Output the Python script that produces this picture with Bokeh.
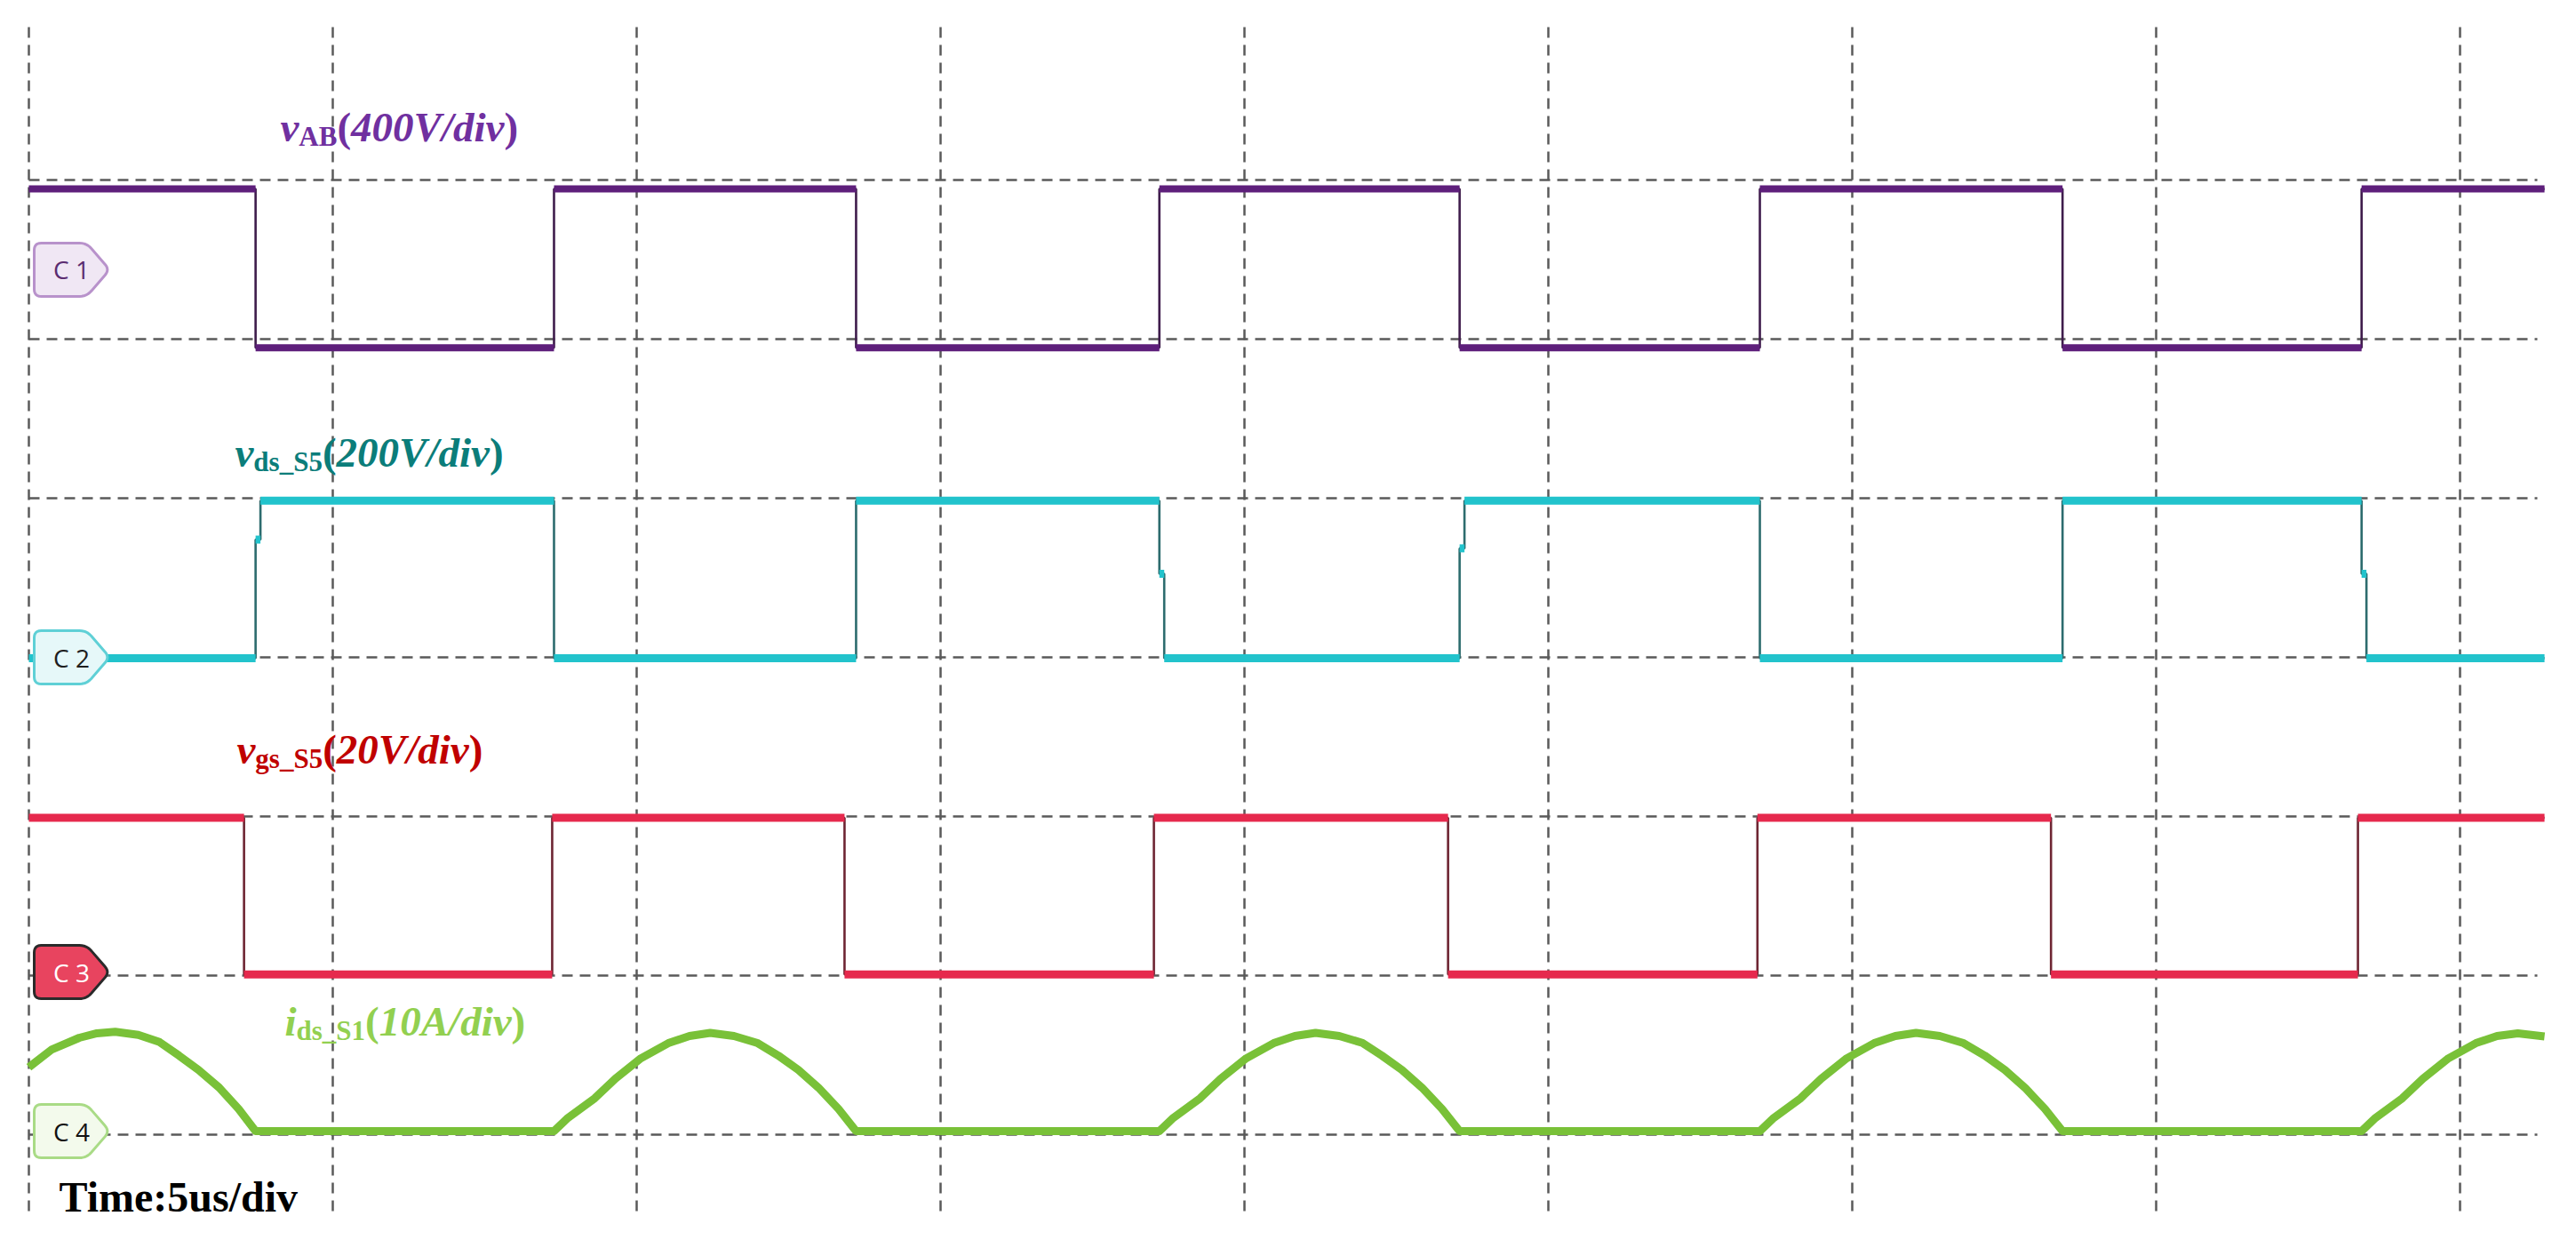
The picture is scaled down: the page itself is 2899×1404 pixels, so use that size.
import math
from bokeh.plotting import figure
from bokeh.models import Range1d, Label
from bokeh.embed import file_html
from bokeh.resources import INLINE
from bokeh.core.properties import value

# ---------------- data read from the oscilloscope capture ----------------
# time in microseconds (5 us/div), amplitudes in physical units
time_grid_us = [0, 5, 10, 15, 20, 25, 30, 35, 40]
div_grid = [-3, -2, -1, 0, 1, 2, 3]
trace_start_us = 0.0
trace_end_us = 41.39

# C1 : v_AB (400 V/div) - starts high
vab_edges_us = [3.73, 8.64, 13.61, 18.60, 23.54, 28.48, 33.46, 38.38]
vab_high_v = 203
vab_low_v = -196

# C2 : v_ds_S5 (200 V/div) - starts low
vds_edges_us = [3.73, 8.64, 13.61, 18.60, 23.54, 28.48, 33.46, 38.38]
vds_low_v = -1
vds_high_v = 197
vds_shoulder_v = [148, None, None, 105, 137, None, None, 105]

# C3 : v_gs_S5 (20 V/div) - starts high
vgs_edges_us = [3.54, 8.61, 13.42, 18.51, 23.35, 28.44, 33.27, 38.32]
vgs_high_v = 19.4
vgs_low_v = -0.3

# C4 : i_ds_S1 (10 A/div)
ids_t_us = [0.00, 0.38, 0.83, 1.12, 1.42, 1.80, 2.15, 2.47, 2.79, 3.13, 3.45, 3.73,
            8.64, 8.87, 9.31, 9.65, 10.07, 10.52, 10.87, 11.21, 11.60, 11.98, 12.33, 12.66, 12.99, 13.32, 13.61,
            18.60, 18.83, 19.27, 19.61, 20.03, 20.48, 20.83, 21.17, 21.56, 21.94, 22.26, 22.59, 22.92, 23.25, 23.54,
            28.48, 28.71, 29.15, 29.49, 29.91, 30.36, 30.71, 31.05, 31.44, 31.82, 32.18, 32.51, 32.84, 33.17, 33.46,
            38.38, 38.61, 39.05, 39.39, 39.81, 40.26, 40.61, 40.95, 41.39]
ids_a = [4.02, 5.14, 5.87, 6.15, 6.25, 6.05, 5.60, 4.75, 3.85, 2.74, 1.40, 0.0,
         0.0, 0.84, 2.07, 3.30, 4.58, 5.53, 5.98, 6.18, 5.98, 5.55, 4.75, 3.85, 2.74, 1.40, 0.0,
         0.0, 0.84, 2.07, 3.30, 4.58, 5.53, 5.98, 6.18, 5.98, 5.55, 4.75, 3.85, 2.74, 1.40, 0.0,
         0.0, 0.84, 2.07, 3.30, 4.58, 5.53, 5.98, 6.18, 5.98, 5.55, 4.75, 3.85, 2.74, 1.40, 0.0,
         0.0, 0.84, 2.07, 3.30, 4.58, 5.53, 5.98, 6.15, 5.95]

# channel settings: scale (units/div) and ground marker position (div)
ch_names = ["C 1", "C 2", "C 3", "C 4"]
ch_scale = [400, 200, 20, 10]
ch_ground_div = [2.436, 0.0, -1.978, -2.978]

# ---------------- layout / style ----------------
W, H = 2899, 1404
PX_US = 68.4          # pixels per microsecond
PX_DIV = 179.0        # pixels per vertical division
X0, Y0 = 32, 739      # canvas position of t=0 and div=0
x_start = -X0 / PX_US
x_end = x_start + W / PX_US
y_end = Y0 / PX_DIV
y_start = y_end - H / PX_DIV


def tx(px):
    return (px - X0) / PX_US


def dy(py):
    return (Y0 - py) / PX_DIV


p = figure(width=W, height=H, output_backend="svg", toolbar_location=None,
           x_range=Range1d(x_start, x_end), y_range=Range1d(y_start, y_end),
           min_border=0, min_border_left=0, min_border_right=0,
           min_border_top=0, min_border_bottom=0)
p.axis.visible = False
p.xgrid.visible = False
p.ygrid.visible = False
p.outline_line_color = None
p.background_fill_color = "white"
p.border_fill_color = "white"

# per-channel y ranges in physical units
for i, nm in enumerate(["c1", "c2", "c3", "c4"]):
    g, s = ch_ground_div[i], ch_scale[i]
    p.extra_y_ranges[nm] = Range1d((y_start - g) * s, (y_end - g) * s)

# ---------------- graticule ----------------
grid_col = "#5a5a5a"
vg_top, vg_bot = dy(30), dy(1368)
p.segment(x0=time_grid_us, x1=time_grid_us,
          y0=[vg_top] * len(time_grid_us), y1=[vg_bot] * len(time_grid_us),
          line_color=grid_col, line_width=2.5, line_dash="12 8")
hg_left, hg_right = tx(32), tx(2855)
p.segment(x0=[hg_left] * len(div_grid), x1=[hg_right] * len(div_grid),
          y0=div_grid, y1=div_grid,
          line_color=grid_col, line_width=2.5, line_dash="12 8")


# ---------------- traces ----------------
def step_path(edges, first, second, t0, t1, shoulders=None, sw=0.08):
    xs, ys = [t0], [first]
    flats = []
    level, other = first, second
    seg_start = t0
    for i, te in enumerate(edges):
        sh = shoulders[i] if shoulders else None
        xs.append(te); ys.append(level)
        flats.append(([seg_start, te], [level, level]))
        if sh is not None:
            xs += [te, te + sw, te + sw]; ys += [sh, sh, other]
            flats.append(([te, te + sw], [sh, sh]))
            seg_start = te + sw
        else:
            xs.append(te); ys.append(other)
            seg_start = te
        level, other = other, level
    xs.append(t1); ys.append(level)
    flats.append(([seg_start, t1], [level, level]))
    return xs, ys, flats


def draw_square(edges, first, second, rng, edge_col, flat_col, width, shoulders=None):
    xs, ys, flats = step_path(edges, first, second, trace_start_us, trace_end_us, shoulders)
    p.line(xs, ys, y_range_name=rng, line_color=edge_col, line_width=2.6)
    p.multi_line([f[0] for f in flats], [f[1] for f in flats], y_range_name=rng,
                 line_color=flat_col, line_width=width, line_cap="butt")


draw_square(vab_edges_us, vab_high_v, vab_low_v, "c1", "#3f1d4c", "#5e1f7b", 8)
draw_square(vds_edges_us, vds_low_v, vds_high_v, "c2", "#2d6c6e", "#22c3cc", 9, vds_shoulder_v)
draw_square(vgs_edges_us, vgs_high_v, vgs_low_v, "c3", "#6e2633", "#e6294d", 9)
p.line(ids_t_us, ids_a, y_range_name="c4", line_color="#79c138", line_width=9,
       line_join="round")


# ---------------- channel markers ----------------
def rounded_pentagon(cy_px, r=8, n=6):
    verts = [(38, cy_px - 30), (97, cy_px - 30), (123, cy_px),
             (97, cy_px + 30), (38, cy_px + 30)]
    pts = []
    m = len(verts)
    for k in range(m):
        P, V, N = verts[k - 1], verts[k], verts[(k + 1) % m]
        dp = math.hypot(P[0] - V[0], P[1] - V[1])
        dn = math.hypot(N[0] - V[0], N[1] - V[1])
        A = (V[0] + r * (P[0] - V[0]) / dp, V[1] + r * (P[1] - V[1]) / dp)
        B = (V[0] + r * (N[0] - V[0]) / dn, V[1] + r * (N[1] - V[1]) / dn)
        for j in range(n + 1):
            u = j / n
            x = (1 - u) ** 2 * A[0] + 2 * (1 - u) * u * V[0] + u ** 2 * B[0]
            y = (1 - u) ** 2 * A[1] + 2 * (1 - u) * u * V[1] + u ** 2 * B[1]
            pts.append((x, y))
    return [tx(q[0]) for q in pts], [dy(q[1]) for q in pts]


mk_fill = ["#f0e7f4", "#e6f8f9", "#e8445f", "#f3faec"]
mk_line = ["#b892cb", "#5fd0d6", "#2a2a2a", "#a9db86"]
mk_text = ["#5b2c70", "#1e1e1e", "#ffffff", "#111111"]
for i in range(4):
    cy = Y0 - ch_ground_div[i] * PX_DIV
    xs, ys = rounded_pentagon(cy)
    p.patch(xs, ys, fill_color=mk_fill[i], line_color=mk_line[i], line_width=3)
    p.text(x=[tx(80)], y=[ch_ground_div[i]], text=[ch_names[i]],
           text_font=value("Open Sans"), text_font_size="28px",
           text_color=mk_text[i], text_align="center", text_baseline="middle")


# ---------------- channel labels ----------------
SERIF = "Liberation Serif"
F_MAIN, F_SUB = 47, 31


def rich_label(start_px, mid_px, parts, color):
    # parts: (text, style, is_sub, width_em); mid_px = visual centre of main text
    off = 0.0
    for txt, style, sub, wem in parts:
        size = F_SUB if sub else F_MAIN
        ym = mid_px + (11 if sub else 0)
        p.add_layout(Label(x=tx(start_px), y=dy(ym), x_offset=off, text=txt,
                           text_font=SERIF, text_font_size=f"{size}px",
                           text_font_style=style, text_color=color,
                           text_baseline="middle", text_align="left"))
        off += wem * size


rich_label(315, 142, [("v", "bold italic", False, 0.444),
                      ("AB", "bold", True, 1.389),
                      ("(", "bold", False, 0.333),
                      ("400V/div", "bold italic", False, 3.667),
                      (")", "bold", False, 0.333)], "#7030a0")
rich_label(264, 508, [("v", "bold italic", False, 0.444),
                      ("ds_S5", "bold", True, 2.501),
                      ("(", "bold", False, 0.333),
                      ("200V/div", "bold italic", False, 3.667),
                      (")", "bold", False, 0.333)], "#0b7d7a")
rich_label(266, 842, [("v", "bold italic", False, 0.444),
                      ("gs_S5", "bold", True, 2.445),
                      ("(", "bold", False, 0.333),
                      ("20V/div", "bold italic", False, 3.167),
                      (")", "bold", False, 0.333)], "#c00000")
rich_label(320, 1148, [("i", "bold italic", False, 0.278),
                       ("ds_S1", "bold", True, 2.501),
                       ("(", "bold", False, 0.333),
                       ("10A/div", "bold italic", False, 3.167),
                       (")", "bold", False, 0.333)], "#92d050")

p.add_layout(Label(x=tx(66), y=dy(1346), text="Time:5us/div", text_font=SERIF,
                   text_font_size="48px", text_font_style="bold", text_color="black",
                   text_baseline="middle", text_align="left"))

open("out.html", "w").write(file_html(p, INLINE))
